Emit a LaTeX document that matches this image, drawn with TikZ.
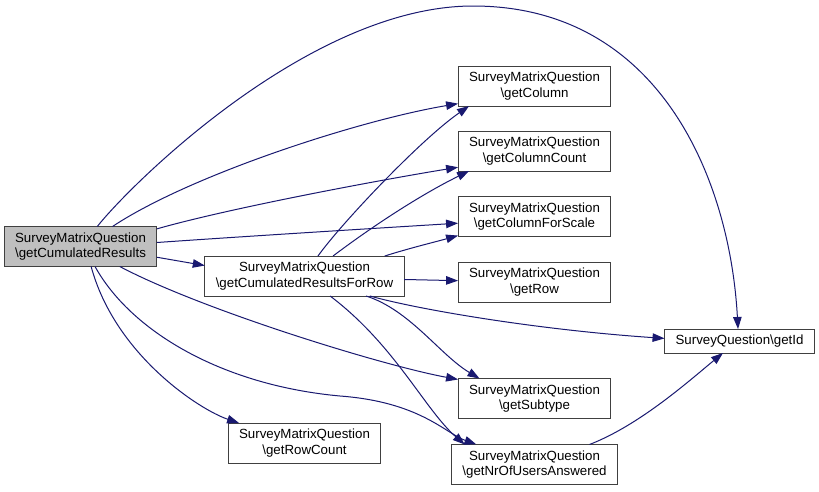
\documentclass[tikz,border=0pt]{standalone}
\usepackage{fontspec}
\setmainfont{Liberation Sans}
\usetikzlibrary{arrows.meta}
\definecolor{edgeblue}{HTML}{191970}
\tikzset{
  fn/.style={draw=black!75, fill=white, line width=1pt, align=center, inner xsep=11pt, inner ysep=2pt,
    outer sep=0pt, minimum height=40pt, font=\fontsize{13.3}{15.5}\selectfont},
  cur/.style={fn, fill=black!25},
  call/.style={draw=edgeblue, line width=1pt, -{Triangle[length=12pt,width=8.5pt]}}
}
\begin{document}
\begin{tikzpicture}[x=1pt,y=-1pt]
\path[use as bounding box, fill=white] (0,0) rectangle (819,491);

\node[cur] (cumres) at (80.5,246.5) {SurveyMatrixQuestion\\\textbackslash getCumulatedResults};
\node[fn] (cumrow) at (304.5,276) {SurveyMatrixQuestion\\\textbackslash getCumulatedResultsForRow};
\node[fn] (col) at (534.5,86) {SurveyMatrixQuestion\\\textbackslash getColumn};
\node[fn] (colcount) at (534.5,151) {SurveyMatrixQuestion\\\textbackslash getColumnCount};
\node[fn] (colscale) at (534.5,216.5) {SurveyMatrixQuestion\\\textbackslash getColumnForScale};
\node[fn] (row) at (534.5,282) {SurveyMatrixQuestion\\\textbackslash getRow};
\node[fn, minimum height=24pt] (getid) at (739.5,341) {SurveyQuestion\textbackslash getId};
\node[fn] (subtype) at (534.5,398.5) {SurveyMatrixQuestion\\\textbackslash getSubtype};
\node[fn] (nrusers) at (534.5,464.5) {SurveyMatrixQuestion\\\textbackslash getNrOfUsersAnswered};
\node[fn] (rowcount) at (304.5,443) {SurveyMatrixQuestion\\\textbackslash getRowCount};

\draw[call] (cumres.50) .. controls (130,185) and (310,6) .. (473,6) .. controls (660,6) and (730,180) .. (getid.97);
\draw[call] (cumres.32) .. controls (190,175) and (360,120) .. (col.193);
\draw[call] (cumres.13) .. controls (230,208) and (380,180) .. (colcount.192);
\draw[call] (cumres.3) .. controls (250,236) and (380,228) .. (colscale.185);
\draw[call] (cumres.-8) -- (cumrow.174);
\draw[call] (cumres.-27) .. controls (200,309) and (380,365) .. (subtype.166);
\draw[call] (cumres.-54) .. controls (130,330) and (220,385) .. (340,396) .. controls (420,402) and (445,433) .. (nrusers.161);
\draw[call] (cumres.-62) .. controls (115,355) and (200,410) .. (rowcount.163);

\draw[call] (cumrow.56) .. controls (340,225) and (420,140) .. (col.197);
\draw[call] (cumrow.35) .. controls (370,228) and (420,195) .. (colcount.197);
\draw[call] (cumrow.14) .. controls (410,248) and (435,242) .. (colscale.194);
\draw[call] (cumrow.-2) -- (row.179);
\draw[call] (cumrow.-17) .. controls (420,310) and (540,330) .. (getid.178);
\draw[call] (cumrow.-18) .. controls (410,310) and (440,355) .. (subtype.160);
\draw[call] (cumrow.-38) .. controls (395,345) and (425,410) .. (nrusers.164);

\draw[call] (nrusers.20) .. controls (640,425) and (690,380) .. (getid.216);
\end{tikzpicture}
\end{document}
